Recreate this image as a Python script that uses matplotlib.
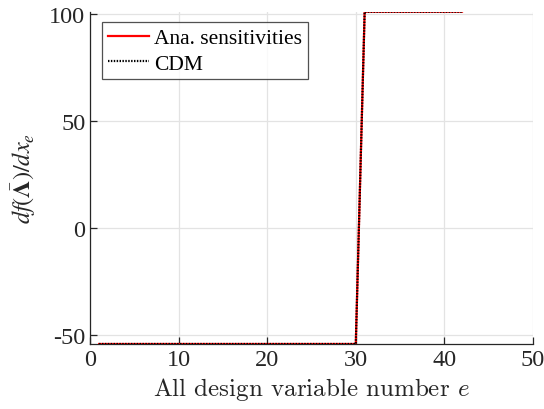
import numpy as np
import matplotlib
matplotlib.use("Agg")
import matplotlib.pyplot as plt

plt.rcParams['font.family'] = ['Liberation Serif', 'DejaVu Serif']
plt.rcParams['mathtext.fontset'] = 'cm'
plt.rcParams['axes.unicode_minus'] = False

# Sensitivity per design variable
design_vars = np.arange(1, 43)
ana_sens = np.array([-54.4] * 30 + [101.3] * 12)
cdm_sens = np.array([-54.4] * 30 + [101.3] * 12)

x_ticks = [0, 10, 20, 30, 40, 50]
y_ticks = [-50, 0, 50, 100]

W, H = 544, 410
fig = plt.figure(figsize=(W / 100, H / 100), dpi=100)
ax = fig.add_axes([90.3 / W, 1 - 345 / H, (532.8 - 90.3) / W, (345 - 12.7) / H])

ax.plot(design_vars, ana_sens, color='red', lw=1.6, label='Ana. sensitivities', zorder=3)
ax.plot(design_vars, cdm_sens, color='black', lw=1.6, ls=(0, (0.65, 0.65)), label='CDM', zorder=4)

ax.set_xlim(0, 50)
ax.set_ylim(-54.4, 101.3)
ax.set_xticks(x_ticks)
ax.set_yticks(y_ticks)
ax.grid(True, color='#e3e3e3', lw=0.9)
ax.set_axisbelow(True)

for s in ['top', 'right']:
    ax.spines[s].set_visible(False)
for s in ['left', 'bottom']:
    ax.spines[s].set_color('#262626')
    ax.spines[s].set_linewidth(0.9)

ax.tick_params(direction='in', length=5, width=0.9, colors='#262626',
               labelsize=17.5, labelcolor='#262626')

ax.set_xlabel(r'All design variable number $e$', fontsize=18, color='#262626',
              family='cmr10', labelpad=4)
ax.set_ylabel(r'$df(\bar{\mathbf{\Lambda}})/dx_e$', fontsize=17.5, color='#262626',
              math_fontfamily='stix', labelpad=8)

leg = ax.legend(loc='upper left', bbox_to_anchor=(101.7 / W, 1 - 23.3 / H),
                bbox_transform=fig.transFigure, fontsize=15.5,
                frameon=True, fancybox=False, edgecolor='#262626',
                handlelength=1.95, handletextpad=0.2, borderpad=0.27,
                labelspacing=0.25, borderaxespad=0)
leg.get_frame().set_linewidth(0.9)

fig.savefig('out.png', dpi=100, facecolor='white')
